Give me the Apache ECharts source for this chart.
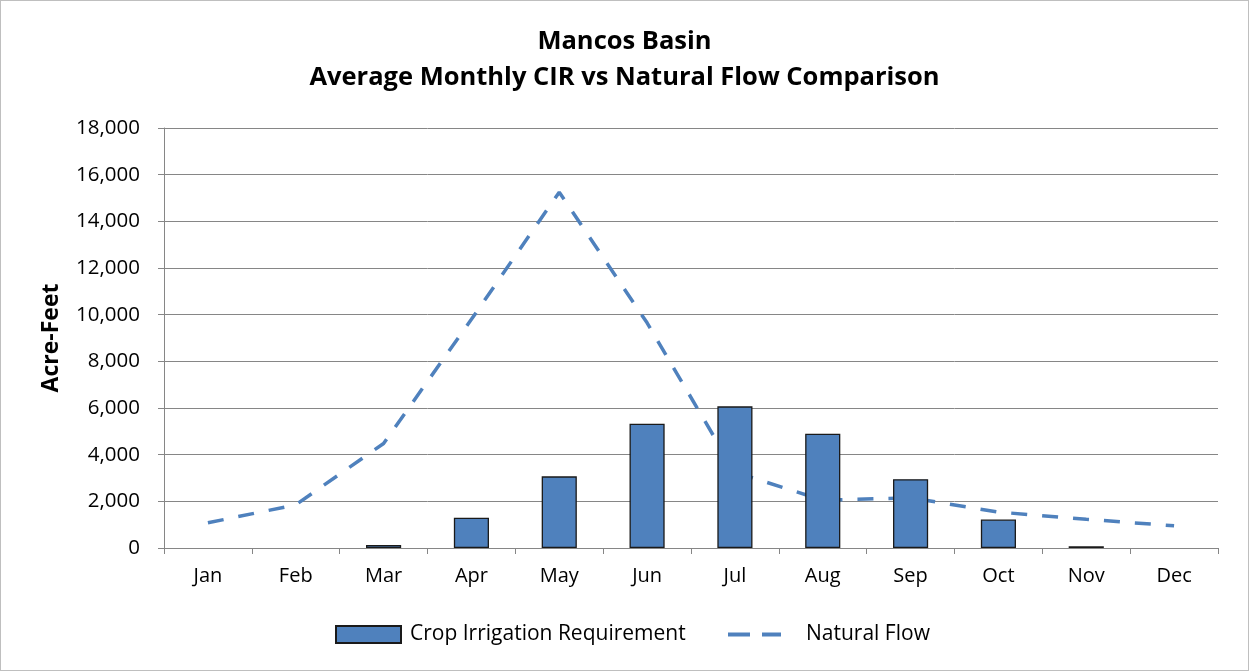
<!DOCTYPE html>
<html>
<head>
<meta charset="utf-8">
<script src="https://cdn.jsdelivr.net/npm/echarts@6/dist/echarts.min.js"></script>
<style>
  html, body { margin: 0; padding: 0; background: #ffffff; }
  #chart { width: 1249px; height: 671px; box-sizing: border-box; border: 1px solid #bfbfbf; }
</style>
</head>
<body>
<div id="chart"></div>
<script>
const months = ['Jan','Feb','Mar','Apr','May','Jun','Jul','Aug','Sep','Oct','Nov','Dec'];
const cropIrrigationRequirement = [0, 0, 130, 1300, 3070, 5330, 6070, 4900, 2950, 1220, 70, 0];
const naturalFlow = [1080, 1850, 4480, 9800, 15250, 9650, 3250, 2050, 2150, 1540, 1230, 950];
const yTicks = { min: 0, max: 18000, interval: 2000 };
const titleLines = ['Mancos Basin', 'Average Monthly CIR vs Natural Flow Comparison'];
const seriesNames = ['Crop Irrigation Requirement', 'Natural Flow'];
const yAxisName = 'Acre-Feet';

const FONT = '"Open Sans", "Liberation Sans", sans-serif';
const BLUE = '#4F81BD';
const chart = echarts.init(document.getElementById('chart'), null, { renderer: 'canvas' });

const barData = cropIrrigationRequirement.map(v => (
  v === 0 ? { value: v, itemStyle: { borderWidth: 0 } } : v
));

chart.setOption({
  backgroundColor: '#ffffff',
  animation: false,
  title: {
    text: titleLines.join('\n'),
    left: 'center',
    top: 18,
    textStyle: { fontFamily: FONT, fontSize: 25.5, fontWeight: 'bold', color: '#000000', lineHeight: 36 }
  },
  grid: { left: 163, right: 30, top: 127, bottom: 122, containLabel: false },
  legend: [
    {
      data: [{ name: seriesNames[0], icon: 'rect' }],
      left: 334, top: 623, padding: 0,
      itemWidth: 65, itemHeight: 17,
      textStyle: { fontFamily: FONT, fontSize: 21, color: '#000000', padding: [0, 0, 0, 4] }
    },
    {
      data: [{ name: seriesNames[1], icon: 'path://M0,0H22V4H0ZM34,0H53V4H34Z' }],
      left: 727, top: 623, padding: 0,
      itemWidth: 53, itemHeight: 4,
      itemStyle: { color: BLUE, borderWidth: 0 },
      textStyle: { fontFamily: FONT, fontSize: 21, color: '#000000', padding: [0, 0, 0, 20] }
    }
  ],
  xAxis: {
    type: 'category',
    data: months,
    boundaryGap: true,
    axisLine: { lineStyle: { color: '#868686', width: 1 } },
    axisTick: { show: true, alignWithLabel: false, length: 6, lineStyle: { color: '#868686' } },
    axisLabel: { fontFamily: FONT, fontSize: 20, color: '#000000', margin: 18 },
    splitLine: { show: false }
  },
  yAxis: {
    type: 'value',
    min: yTicks.min, max: yTicks.max, interval: yTicks.interval,
    name: yAxisName,
    nameLocation: 'middle',
    nameGap: 101,
    nameRotate: 90,
    nameTextStyle: { fontFamily: FONT, fontSize: 23, fontWeight: 'bold', color: '#000000' },
    axisLine: { show: true, lineStyle: { color: '#868686', width: 1 } },
    axisTick: { show: true, length: 6, lineStyle: { color: '#868686' } },
    axisLabel: {
      fontFamily: FONT, fontSize: 20.5, color: '#000000', margin: 24,
      formatter: v => v.toLocaleString('en-US')
    },
    splitLine: { show: true, lineStyle: { color: '#868686', width: 1 } }
  },
  series: [
    {
      name: seriesNames[0],
      type: 'bar',
      data: barData,
      barWidth: '40%',
      z: 3,
      itemStyle: { color: BLUE, borderColor: '#1a1a1a', borderWidth: 1.3 }
    },
    {
      name: seriesNames[1],
      type: 'line',
      data: naturalFlow,
      z: 1,
      symbol: 'none',
      showSymbol: false,
      itemStyle: { color: BLUE },
      lineStyle: { color: BLUE, width: 3.5, type: [16, 15], cap: 'butt' }
    }
  ]
});
</script>
</body>
</html>
